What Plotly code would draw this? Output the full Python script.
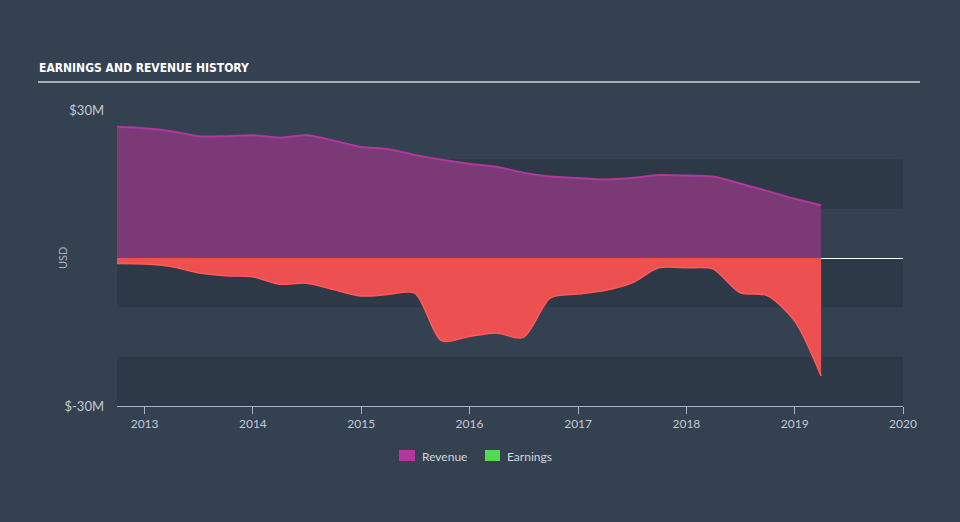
import plotly.graph_objects as go

dates = [
    "2012-09-30", "2012-12-31", "2013-03-31", "2013-06-30", "2013-09-30", "2013-12-31",
    "2014-03-31", "2014-06-30", "2014-09-30", "2014-12-31",
    "2015-03-31", "2015-06-30", "2015-09-30", "2015-12-31",
    "2016-03-31", "2016-06-30", "2016-09-30", "2016-12-31",
    "2017-03-31", "2017-06-30", "2017-09-30", "2017-12-31",
    "2018-03-31", "2018-06-30", "2018-09-30", "2018-12-31",
    "2019-03-31",
]
revenue = [26.6, 26.3, 25.7, 24.7, 24.7, 24.9, 24.4, 24.9, 23.8, 22.5,
           22.1, 20.9, 19.9, 19.1, 18.5, 17.3, 16.5, 16.2, 15.9, 16.2,
           16.8, 16.7, 16.5, 15.1, 13.6, 12.0, 10.7]
earnings = [-1.1, -1.2, -1.7, -3.0, -3.6, -3.8, -5.3, -5.1, -6.4, -7.7,
            -7.4, -7.1, -16.8, -15.9, -15.2, -16.1, -8.1, -7.3, -6.6, -5.1,
            -2.0, -2.0, -2.2, -7.0, -7.6, -12.7, -23.9]

y_tickvals = [30, -30]
y_ticktext = ["$30M", "$-30M"]
bands = [(10, 20), (-10, 0), (-30, -20)]

PAPER = "#344151"
BAND = "#2d3947"
TICK_COLOR = "#c3cad2"
AXIS_COLOR = "#a6b4c4"

# plot area in pixels
L, R, T, B = 117, 903, 110, 406
W, H = R - L, B - T


def px(x):
    return (x - L) / W


def py(y):
    return (B - y) / H


fig = go.Figure()

fig.add_trace(go.Scatter(
    x=dates, y=revenue, mode="lines", name="Revenue",
    line=dict(color="#b0389f", width=2, shape="spline", smoothing=0.8),
    fill="tozeroy", fillcolor="#7b3976", showlegend=False,
))
fig.add_trace(go.Scatter(
    x=dates, y=earnings, mode="lines", name="Earnings",
    line=dict(color="#ff5b5b", width=1.5, shape="spline", smoothing=0.8),
    fill="tozeroy", fillcolor="#ec5050", showlegend=False,
))

shapes = []
for lo, hi in bands:
    shapes.append(dict(type="rect", xref="paper", yref="y", x0=0, x1=1, y0=lo, y1=hi,
                       fillcolor=BAND, line=dict(width=0), layer="below"))
# title underline
shapes.append(dict(type="line", xref="paper", yref="paper", x0=px(38), x1=px(920),
                   y0=py(82), y1=py(82), line=dict(color="#a9aeb5", width=2)))
# legend swatches
shapes.append(dict(type="rect", xref="paper", yref="paper", x0=px(399), x1=px(415),
                   y0=py(461), y1=py(450), fillcolor="#b0389f", line=dict(width=0)))
shapes.append(dict(type="rect", xref="paper", yref="paper", x0=px(485), x1=px(500),
                   y0=py(461), y1=py(450), fillcolor="#4fdc4f", line=dict(width=0)))

annotations = [
    dict(text="<b>EARNINGS AND REVENUE HISTORY</b>", xref="paper", yref="paper",
         x=px(37), y=py(68), xanchor="left", yanchor="middle", showarrow=False,
         font=dict(family="DejaVu Sans Condensed, Roboto Condensed, Roboto, sans-serif",
                   size=12, color="#ffffff")),
    dict(text="USD", xref="paper", yref="paper", x=px(62), y=py(258), textangle=-90,
         xanchor="center", yanchor="middle", showarrow=False,
         font=dict(family="Lato", size=11, color="#a9b2bc")),
    dict(text="Revenue", xref="paper", yref="paper", x=px(420), y=py(456),
         xanchor="left", yanchor="middle", showarrow=False,
         font=dict(family="Lato", size=12, color="#d2d6db")),
    dict(text="Earnings", xref="paper", yref="paper", x=px(505), y=py(456),
         xanchor="left", yanchor="middle", showarrow=False,
         font=dict(family="Lato", size=12, color="#d2d6db")),
]

fig.update_layout(
    width=960, height=522,
    margin=dict(l=L, r=960 - R, t=T, b=522 - B),
    paper_bgcolor=PAPER, plot_bgcolor=PAPER,
    shapes=shapes, annotations=annotations,
    showlegend=False,
    xaxis=dict(
        type="date", range=["2012-09-30", "2020-01-01"],
        dtick="M12", tick0="2013-01-01", tickformat="%Y",
        showgrid=False, zeroline=False,
        showline=True, linecolor=AXIS_COLOR, linewidth=1,
        ticks="outside", ticklen=7, tickcolor=AXIS_COLOR, tickwidth=1,
        tickfont=dict(family="Lato", size=12, color=TICK_COLOR),
        fixedrange=True,
    ),
    yaxis=dict(
        range=[-30, 30], tickvals=y_tickvals, ticktext=y_ticktext,
        showgrid=False, zeroline=True, zerolinecolor="#ffffff", zerolinewidth=1,
        showline=False, ticks="", ticklabelstandoff=12,
        tickfont=dict(family="Lato", size=13, color=TICK_COLOR),
        fixedrange=True,
    ),
)

fig.write_html("out.html")
